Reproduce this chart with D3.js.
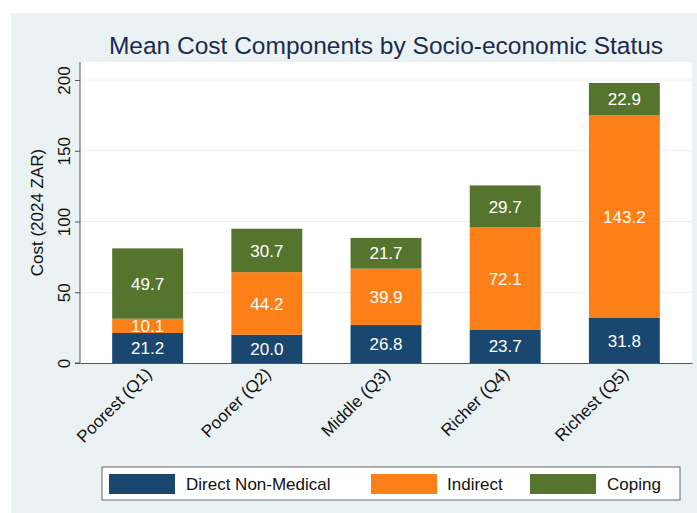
<!DOCTYPE html>
<html lang="en">
<head>
<meta charset="UTF-8">
<title>Mean Cost Components by Socio-economic Status</title>
<style>
  body { margin: 0; background: #fff; }
  svg text { font-family: "Liberation Sans", Arial, sans-serif; }
</style>
</head>
<body>
<div id="chart"></div>
<script src="https://cdn.jsdelivr.net/npm/d3@7/dist/d3.min.js"></script>
<script>
// data
const groups = ["Poorest (Q1)", "Poorer (Q2)", "Middle (Q3)", "Richer (Q4)", "Richest (Q5)"];
const directNonMedical = [21.2, 20.0, 26.8, 23.7, 31.8];
const indirect = [10.1, 44.2, 39.9, 72.1, 143.2];
const coping = [49.7, 30.7, 21.7, 29.7, 22.9];
const seriesNames = ["Direct Non-Medical", "Indirect", "Coping"];
const seriesColors = ["#1a476f", "#fd7f17", "#55752f"];
const yTicks = [0, 50, 100, 150, 200];

const w = 697, h = 513;
const plot = {left: 80, right: 692, top: 62, bottom: 363};

const rows = groups.map((g, i) => ({
    group: g,
    "Direct Non-Medical": directNonMedical[i],
    "Indirect": indirect[i],
    "Coping": coping[i]
}));
const stacked = d3.stack().keys(seriesNames)(rows);

const x = d3.scaleBand()
    .domain(groups)
    .range([plot.left, plot.right])
    .paddingInner(0.405)
    .paddingOuter(0.27);
const y = d3.scaleLinear()
    .domain([0, 200])
    .range([plot.bottom, 80]);
const color = d3.scaleOrdinal().domain(seriesNames).range(seriesColors);

const svg = d3.select('#chart')
    .append('svg')
    .attr('width', w)
    .attr('height', h);

// outer panel
svg.append('rect')
    .attr('x', 11).attr('y', 13)
    .attr('width', w - 11).attr('height', h - 13)
    .attr('fill', '#eaf2f3');
// plot region
svg.append('rect')
    .attr('x', plot.left).attr('y', plot.top)
    .attr('width', plot.right - plot.left).attr('height', plot.bottom - plot.top)
    .attr('fill', '#fff');

// gridlines
svg.append('g')
    .selectAll('line')
    .data(yTicks.filter(d => d > 0))
    .join('line')
    .attr('x1', plot.left).attr('x2', plot.right)
    .attr('y1', d => y(d)).attr('y2', d => y(d))
    .attr('stroke', '#e8eef0')
    .attr('stroke-width', 1);

svg.append('text')
    .attr('x', (plot.left + plot.right) / 2)
    .attr('y', 54)
    .attr('text-anchor', 'middle')
    .attr('font-size', 24.5)
    .attr('fill', '#1c2a4e')
    .text('Mean Cost Components by Socio-economic Status');

// bars
const layers = svg.append('g')
    .selectAll('g')
    .data(stacked)
    .join('g')
    .attr('fill', d => color(d.key));

layers.selectAll('rect')
    .data(d => d)
    .join('rect')
    .attr('x', d => x(d.data.group))
    .attr('y', d => y(d[1]))
    .attr('width', x.bandwidth())
    .attr('height', d => y(d[0]) - y(d[1]));

layers.selectAll('text')
    .data(d => d.map(v => ({v, key: d.key})))
    .join('text')
    .attr('x', d => x(d.v.data.group) + x.bandwidth() / 2)
    .attr('y', d => y((d.v[0] + d.v[1]) / 2))
    .attr('dy', '0.36em')
    .attr('text-anchor', 'middle')
    .attr('font-size', 17)
    .attr('fill', '#fff')
    .text(d => d.v.data[d.key].toFixed(1));

// y axis
const yAxis = svg.append('g')
    .attr('transform', `translate(${plot.left},0)`)
    .call(d3.axisLeft(y).tickValues(yTicks).tickSize(5).tickPadding(4));
yAxis.select('.domain').attr('d', `M-5,${y(0)}H0V${plot.top}`).attr('stroke', '#555');
yAxis.selectAll('.tick line').attr('stroke', '#555');
yAxis.selectAll('.tick text')
    .attr('font-size', 17)
    .attr('fill', '#111')
    .attr('x', null).attr('dy', null)
    .attr('text-anchor', 'middle')
    .attr('transform', 'translate(-10,0) rotate(-90)');

svg.append('text')
    .attr('transform', `translate(43,${(plot.top + plot.bottom) / 2}) rotate(-90)`)
    .attr('text-anchor', 'middle')
    .attr('font-size', 17)
    .attr('fill', '#111')
    .text('Cost (2024 ZAR)');

// x axis
const xAxis = svg.append('g')
    .attr('transform', `translate(0,${plot.bottom})`)
    .call(d3.axisBottom(x).tickSize(0).tickPadding(0));
xAxis.select('.domain').attr('stroke', '#555');
xAxis.selectAll('.tick text')
    .attr('font-size', 17)
    .attr('fill', '#111')
    .attr('text-anchor', 'end')
    .attr('dy', null)
    .attr('y', 0)
    .attr('transform', 'translate(5,12) rotate(-45)');

// legend
const legend = svg.append('g').attr('transform', 'translate(102,467)');
legend.append('rect')
    .attr('width', 578).attr('height', 33)
    .attr('fill', '#fff')
    .attr('stroke', '#666');
const legendX = [7, 269, 428];
const item = legend.selectAll('g.item')
    .data(seriesNames)
    .join('g')
    .attr('class', 'item')
    .attr('transform', (d, i) => `translate(${legendX[i]},7)`);
item.append('rect')
    .attr('width', 66).attr('height', 20)
    .attr('fill', d => color(d));
item.append('text')
    .attr('x', (d, i) => [77, 76, 77][i])
    .attr('y', 10)
    .attr('dy', '0.36em')
    .attr('font-size', 17)
    .attr('fill', '#111')
    .text(d => d);
</script>
</body>
</html>
